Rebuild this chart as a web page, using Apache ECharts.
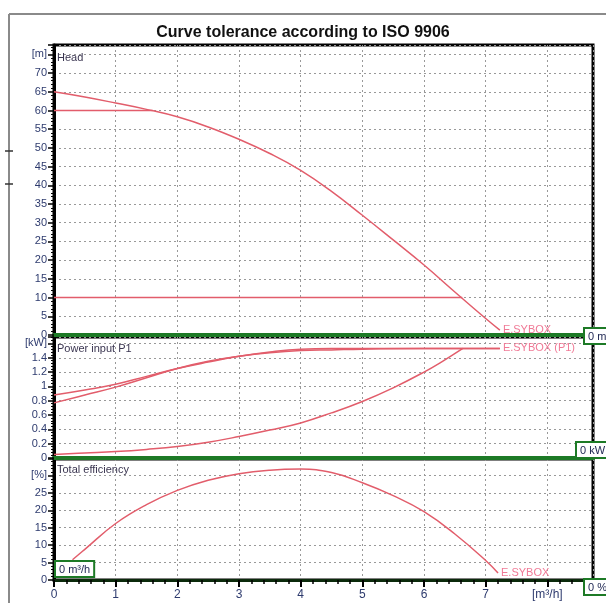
<!DOCTYPE html>
<html>
<head>
<meta charset="utf-8">
<script src="https://cdn.jsdelivr.net/npm/echarts@6/dist/echarts.min.js"></script>
<style>
  html, body { margin: 0; padding: 0; background: #fff; }
  #chart { width: 606px; height: 603px; }
</style>
</head>
<body>
<div id="chart"></div>
<script>
// flow axis (m3/h)
const flowMax = 8.74;

// head panel
const headFlow = [0, 0.5, 1, 1.5, 2, 2.5, 3, 3.5, 4, 4.5, 5, 5.5, 6, 6.5, 7, 7.23];
const headVals = [65, 63.6, 62, 60.3, 58.3, 55.6, 52.3, 48.5, 44, 38.4, 32, 25.4, 18.7, 11.5, 4.4, 1.3];
const headHighFlow = [0, 1.6];
const headHigh = [60, 60];
const headLowFlow = [0, 6.62];
const headLow = [10, 10];

// power input P1 panel
const p1Flow = [0, 0.5, 1, 1.5, 2, 2.5, 3, 3.5, 4, 4.5, 5, 6, 7.23];
const p1Upper = [0.88, 0.95, 1.03, 1.14, 1.25, 1.34, 1.42, 1.48, 1.52, 1.53, 1.53, 1.53, 1.53];
const p1Mid = [0.77, 0.88, 0.99, 1.12, 1.25, 1.35, 1.42, 1.47, 1.5, 1.51, 1.52, 1.53, 1.53];
const p1LowFlow = [0, 0.5, 1, 1.5, 2, 2.5, 3, 3.5, 4, 4.5, 5, 5.5, 6, 6.3, 6.63];
const p1Low = [0.05, 0.07, 0.09, 0.12, 0.16, 0.22, 0.3, 0.39, 0.49, 0.63, 0.79, 0.98, 1.2, 1.35, 1.53];

// total efficiency panel
const effFlow = [0.3, 0.5, 1, 1.5, 2, 2.5, 3, 3.5, 4, 4.5, 5, 5.5, 6, 6.5, 7, 7.2];
const effVals = [5.8, 8.8, 16.2, 21.6, 25.7, 28.6, 30.5, 31.5, 31.8, 30.8, 27.9, 24.2, 19.6, 13.2, 5.6, 2];

const zip = (xs, ys) => xs.map((x, i) => [x, ys[i]]);

const curveColor = '#e25d6b';
const labelColor = '#f07a96';
const tickText = '#2e3b6e';
const green = '#1d7a26';

const dotted = { show: true, lineStyle: { color: '#999', type: [2, 3], width: 1 } };

function yAxis(grid, max, interval, unitVal, unitText, dec) {
  return {
    type: 'value', gridIndex: grid, min: 0, max: max, interval: interval,
    axisLine: { show: true, lineStyle: { color: '#000', width: 3 } },
    axisTick: { show: true, length: 6, lineStyle: { color: '#000', width: 1.5 } },
    minorTick: { show: true, splitNumber: 5, length: 3, lineStyle: { color: '#000', width: 1 } },
    axisLabel: {
      margin: 7, color: tickText, fontSize: 11, fontFamily: 'Liberation Sans',
      formatter: v => {
        if (Math.abs(v - unitVal) < 1e-6) return unitText;
        if (v > unitVal + 1e-6) return '';
        return String(+v.toFixed(dec));
      }
    },
    splitLine: dotted
  };
}

function xAxis(grid, bottom) {
  const ax = {
    type: 'value', gridIndex: grid, min: 0, max: flowMax, interval: 1,
    splitLine: dotted,
    axisLine: { show: true, onZero: false, lineStyle: { color: green, width: 4 } },
    axisTick: { show: false },
    axisLabel: { show: false }
  };
  if (bottom) {
    ax.axisLine = { show: true, onZero: false, lineStyle: { color: '#0b2a0b', width: 3 } };
    ax.axisTick = { show: true, length: 7, lineStyle: { color: '#000', width: 2 } };
    ax.minorTick = { show: true, splitNumber: 5, length: 4, lineStyle: { color: '#000', width: 1.5 } };
    ax.axisLabel = {
      show: true, margin: 9, color: tickText, fontSize: 12, fontFamily: 'Liberation Sans',
      formatter: v => {
        if (Math.abs(v - 8) < 1e-6) return '[m³/h]';
        if (Math.abs(v - Math.round(v)) > 1e-6 || v > 8) return '';
        return String(v);
      }
    };
  }
  return ax;
}

function line(xi, data, endText) {
  const s = {
    type: 'line', xAxisIndex: xi, yAxisIndex: xi, data: data,
    showSymbol: false, symbol: 'none', smooth: 0.45,
    lineStyle: { color: curveColor, width: 1.5 }
  };
  if (endText) {
    s.endLabel = { show: true, formatter: endText, color: labelColor, fontSize: 11,
      fontFamily: 'Liberation Sans', distance: 3 };
  }
  return s;
}

function boxText(x, y, text) {
  return {
    type: 'text', x: x, y: y, z: 100,
    style: {
      text: text, fill: '#1c2450', font: '11px Liberation Sans',
      backgroundColor: '#fff', borderColor: green, borderWidth: 2, padding: [2, 3, 1, 3]
    }
  };
}

function panelTitle(x, y, text) {
  return { type: 'text', x: x, y: y, z: 50,
    style: { text: text, fill: '#3a3550', font: '11px Liberation Sans' } };
}

const chart = echarts.init(document.getElementById('chart'));
chart.setOption({
  animation: false,
  title: {
    text: 'Curve tolerance according to ISO 9906', left: 'center', top: 20,
    textStyle: { fontSize: 16, fontWeight: 'bold', color: '#111', fontFamily: 'Liberation Sans' }
  },
  grid: [
    { left: 54, right: 13, top: 45, height: 290, show: true, borderColor: '#000', borderWidth: 3 },
    { left: 54, right: 13, top: 337, height: 121, show: true, borderColor: '#000', borderWidth: 3 },
    { left: 54, right: 13, top: 459, height: 121, show: true, borderColor: '#000', borderWidth: 3 }
  ],
  xAxis: [xAxis(0, false), xAxis(1, false), xAxis(2, true)],
  yAxis: [
    yAxis(0, 77.5, 5, 75, '[m]', 0),
    yAxis(1, 1.69, 0.2, 1.6, '[kW]', 1),
    yAxis(2, 34.7, 5, 30, '[%]', 0)
  ],
  series: [
    line(0, zip(headFlow, headVals), 'E.SYBOX'),
    line(0, zip(headHighFlow, headHigh)),
    line(0, zip(headLowFlow, headLow)),
    line(1, zip(p1Flow, p1Upper), 'E.SYBOX (P1)'),
    line(1, zip(p1Flow, p1Mid)),
    line(1, zip(p1LowFlow, p1Low)),
    line(2, zip(effFlow, effVals), 'E.SYBOX')
  ],
  graphic: [
    { type: 'line', shape: { x1: 9, y1: 14, x2: 606, y2: 14 }, style: { stroke: '#8a8a8a', lineWidth: 2 } },
    { type: 'line', shape: { x1: 9, y1: 14, x2: 9, y2: 603 }, style: { stroke: '#8a8a8a', lineWidth: 2 } },
    { type: 'line', shape: { x1: 5, y1: 151, x2: 13, y2: 151 }, style: { stroke: '#333', lineWidth: 1.5 } },
    { type: 'line', shape: { x1: 5, y1: 184, x2: 13, y2: 184 }, style: { stroke: '#333', lineWidth: 1.5 } },
    panelTitle(57, 52, 'Head'),
    panelTitle(57, 343, 'Power input P1'),
    panelTitle(57, 464, 'Total efficiency'),
    boxText(585, 329, '0 m'),
    boxText(577, 443, '0 kW'),
    boxText(56, 562, '0 m³/h'),
    boxText(585, 580, '0 %')
  ]
});
</script>
</body>
</html>
